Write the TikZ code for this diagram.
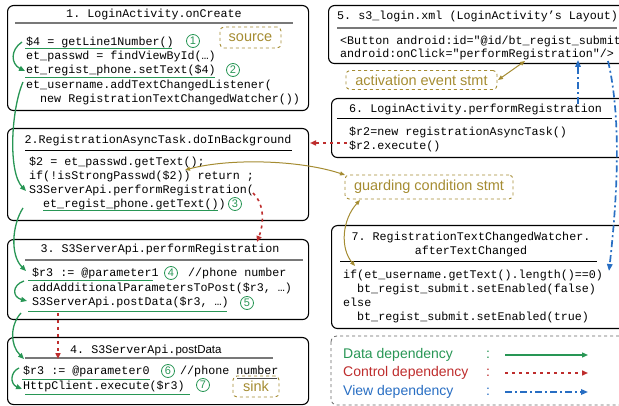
\documentclass[tikz,border=0pt]{standalone}
\usepackage{fontspec}
\setmonofont{Liberation Mono}
\newfontfamily\lsans{Liberation Sans}
\usetikzlibrary{arrows.meta}
\definecolor{dgreen}{RGB}{40,150,85}
\definecolor{dred}{RGB}{190,45,45}
\definecolor{dblue}{RGB}{40,110,195}
\definecolor{dolive}{RGB}{165,140,50}
\definecolor{rulegray}{RGB}{120,120,120}
\newcommand\cdf{\ttfamily\fontsize{11.7}{14}\selectfont}
\tikzset{
  box/.style={draw=black, line width=1.1pt, rounded corners=6pt, inner sep=0pt, anchor=north west},
  code/.style={font=\cdf, inner sep=0pt, anchor=base west},
  ctitle/.style={font=\cdf, inner sep=0pt, anchor=base},
  grule/.style={draw=rulegray, line width=1.8pt},
  brule/.style={draw=black, line width=0.9pt},
  num/.style={circle, draw=dgreen, line width=0.8pt, text=dgreen, inner sep=0pt, minimum size=13pt, font=\lsans\fontsize{11}{11}\selectfont},
  lbl/.style={draw=dolive, dashed, line width=0.9pt, rounded corners=4pt, text=dolive, inner sep=0pt, font=\lsans\fontsize{14.5}{15}\selectfont},
  uline/.style={draw=dgreen, line width=1pt},
  dataarr/.style={draw=dgreen, line width=1.3pt, -{Triangle[length=6pt,width=5pt]}},
  ctrlarr/.style={draw=dred, line width=1.6pt, dash pattern=on 3pt off 4pt, -{Triangle[length=6pt,width=5pt]}},
  viewarr/.style={draw=dblue, line width=1.7pt, dash pattern=on 7pt off 3pt on 2pt off 3pt, -{Triangle[length=7pt,width=5.5pt]}},
  olivearr/.style={draw=dolive, line width=1pt, {Triangle[length=5pt,width=4pt]}-{Triangle[length=5pt,width=4pt]}},
  legtxt/.style={inner sep=0pt, anchor=west, font=\lsans\fontsize{14}{15}\selectfont}
}
\begin{document}
\begin{tikzpicture}[x=1pt,y=-1pt]
\useasboundingbox (0,0) rectangle (619,406);
\clip (0,0) rectangle (619,406);
% ---------- Box 1 ----------
\node[box, minimum width=301pt, minimum height=105pt] (b1) at (7,5) {};
\node[ctitle] (t1) at (154,18) {1. LoginActivity.onCreate};
\draw[grule] (15,23) -- (293,23);
\node[code] (l11) at (26,46) {\$4 = getLine1Number()};
\node[code] (l12) at (26,60) {et\_passwd = findViewById(…)};
\node[code] (l13) at (26,74) {et\_regist\_phone.setText(\$4)};
\node[code] (l14) at (26,89) {et\_username.addTextChangedListener(};
\node[code] (l15) at (40,103) {new RegistrationTextChangedWatcher())};
\node[num] (n1) at (193,41) {1};
\node[num] (n2) at (233,70) {2};
\node[lbl, minimum width=61pt, minimum height=21pt] (src) at (250.5,37.5) {source};
\draw[uline] (25,49) -- (172,49);
\draw[uline] (25,78) -- (215,78);
% ---------- Box 2 ----------
\node[box, minimum width=301pt, minimum height=92pt] (b2) at (7,128) {};
\node[ctitle] (t2) at (158,144) {2.RegistrationAsyncTask.doInBackground};
\draw[brule] (25,150.5) -- (292,150.5);
\node[code] (l21) at (29,166) {\$2 = et\_passwd.getText();};
\node[code] (l22) at (29,180) {if(!isStrongPasswd(\$2)) return ;};
\node[code] (l23) at (29,194) {S3ServerApi.performRegistration(};
\node[code] (l24) at (43,208) {et\_regist\_phone.getText())};
\node[num] (n3) at (235,204) {3};
\draw[uline] (43,211) -- (218,211);
% ---------- Box 3 ----------
\node[box, minimum width=301pt, minimum height=80pt] (b3) at (7,239) {};
\node[ctitle] (t3) at (160,253) {3. S3ServerApi.performRegistration};
\draw[grule] (25,260) -- (303,260);
\node[code] (l31) at (32,277) {\$r3 := @parameter1};
\node[code] (l31b) at (188,277) {//phone number};
\node[code] (l32) at (32,292) {addAdditionalParametersToPost(\$r3, …)};
\node[code] (l33) at (32,306) {S3ServerApi.postData(\$r3, …)};
\node[num] (n4) at (171,273) {4};
\node[num] (n5) at (247,303) {5};
\draw[uline] (28,281) -- (153,281);
\draw[uline] (28,312) -- (227,312);
% ---------- Box 4 ----------
\node[box, minimum width=301pt, minimum height=67pt] (b4) at (7,337) {};
\node[ctitle, anchor=base west] (t4) at (70,353) {4. S3ServerApi.{\lsans\fontsize{11.5}{12}\selectfont postData}};
\draw[grule] (25,358) -- (273,358);
\node[code] (l41) at (23,374) {\$r3 := @parameter0};
\node[code] (l41b) at (180,374) {//phone number};
\node[code] (l42) at (23,389) {HttpClient.execute(\$r3)};
\node[num] (n6) at (168,371) {6};
\node[num] (n7) at (203,385) {7};
\node[lbl, minimum width=46pt, minimum height=21pt] (sink) at (256,386.5) {sink};
\draw[uline] (22,379) -- (150,379);
\draw[uline] (25,394) -- (190,394);
\draw[draw=black!70, line width=0.6pt] (237,378.5) -- (277,378.5);
% ---------- Box 5 ----------
\node[box, minimum width=320pt, minimum height=58pt] (b5) at (328,5) {};
\node[code] (t5) at (337,20) {5. s3\_login.xml (LoginActivity’s Layout)};
\draw[grule] (337,28) -- (617,28);
\node[code] (l51) at (340,45) {<Button android:id="@id/bt\_regist\_submit"};
\node[code] (l52) at (340,58) {android:onClick="performRegistration"/>};
\node[lbl, minimum width=151pt, minimum height=19pt] (act) at (421.5,80) {activation event stmt};
% ---------- Box 6 ----------
\node[box, minimum width=320pt, minimum height=59pt] (b6) at (331,98) {};
\node[code] (t6) at (349,113) {6. LoginActivity.performRegistration};
\draw[brule] (337,118.5) -- (612,118.5);
\node[code] (l61) at (349,136) {\$r2=new registrationAsyncTask()};
\node[code] (l62) at (349,150) {\$r2.execute()};
% ---------- guarding label ----------
\node[lbl, minimum width=168pt, minimum height=24pt] (guard) at (429,187) {guarding condition stmt};
% ---------- Box 7 ----------
\node[box, minimum width=320pt, minimum height=103pt] (b7) at (331,225) {};
\node[ctitle] (t7a) at (471,241) {7. RegistrationTextChangedWatcher.};
\node[ctitle] (t7b) at (471,255) {afterTextChanged};
\draw[brule] (340,261.5) -- (597,261.5);
\node[code] (l71) at (343,279) {if(et\_username.getText().length()==0)};
\node[code] (l72) at (357,293) {bt\_regist\_submit.setEnabled(false)};
\node[code] (l73) at (343,307) {else};
\node[code] (l74) at (357,320) {bt\_regist\_submit.setEnabled(true)};
% ---------- Legend ----------
\draw[draw=black!60, dashed, line width=0.8pt, rounded corners=6pt] (331,336) rectangle (650,405);
\node[legtxt, text=dgreen] (lg1) at (343,355) {Data dependency};
\node[legtxt, text=dred] (lg2) at (343,373) {Control dependency};
\node[legtxt, text=dblue] (lg3) at (343,392) {View dependency};
\node[legtxt, text=dgreen] (c1) at (486,355) {:};
\node[legtxt, text=dred] (c2) at (486,373) {:};
\node[legtxt, text=dblue] (c3) at (486,392) {:};
\coordinate (la1) at (505,355); \coordinate (lb1) at (588,355);
\coordinate (la2) at (505,373); \coordinate (lb2) at (588,373);
\coordinate (la3) at (505,392); \coordinate (lb3) at (588,392);
\draw[dataarr] (la1) -- (lb1);
\draw[ctrlarr] (la2) -- (lb2);
\draw[viewarr] (la3) -- (lb3);
% ---------- Data dependency arrows ----------
\coordinate (g1s) at (22,42);  \coordinate (g1e) at (25,71);
\coordinate (g2s) at (23,82);  \coordinate (g2e) at (26,191);
\coordinate (g3s) at (23,208); \coordinate (g3e) at (26,271);
\coordinate (g4s) at (24,281); \coordinate (g4e) at (27,301);
\coordinate (g5s) at (21,313); \coordinate (g5e) at (24,359);
\coordinate (g6s) at (19,368); \coordinate (g6e) at (22,389);
\draw[dataarr] (g1s) .. controls (10,50) and (11,64) .. (g1e);
\draw[dataarr] (g2s) .. controls (11,110) and (8,172) .. (g2e);
\draw[dataarr] (g3s) .. controls (12,225) and (10,255) .. (g3e);
\draw[dataarr] (g4s) .. controls (12,285) and (12,297) .. (g4e);
\draw[dataarr] (g5s) .. controls (10,325) and (10,345) .. (g5e);
\draw[dataarr] (g6s) .. controls (10,372) and (10,384) .. (g6e);
% ---------- Control dependency arrows ----------
\coordinate (r1s) at (253,193); \coordinate (r1e) at (257,242);
\coordinate (r2s) at (58,313);  \coordinate (r2e) at (58,359);
\coordinate (r3s) at (347,143); \coordinate (r3e) at (310,143);
\draw[ctrlarr] (r1s) .. controls (266,206) and (263,226) .. (r1e);
\draw[ctrlarr] (r2s) -- (r2e);
\draw[ctrlarr] (r3s) -- (r3e);
% ---------- View dependency arrows ----------
\coordinate (v1s) at (578,104); \coordinate (v1e) at (578,60);
\coordinate (v2s) at (608,61);  \coordinate (v2e) at (609,271);
\draw[viewarr] (v1s) -- (v1e);
\draw[viewarr] (v2s) .. controls (622,120) and (617,200) .. (v2e);
% ---------- Olive annotation arrows ----------
\coordinate (o1s) at (185,170); \coordinate (o1e) at (345,175);
\coordinate (o2s) at (360,200); \coordinate (o2e) at (355,266);
\coordinate (o3s) at (498,80);  \coordinate (o3e) at (525,61);
\draw[olivearr] (o1s) .. controls (230,158) and (300,160) .. (o1e);
\draw[olivearr] (o2s) .. controls (342,220) and (340,248) .. (o2e);
\draw[olivearr] (o3s) -- (o3e);
\end{tikzpicture}
\end{document}
